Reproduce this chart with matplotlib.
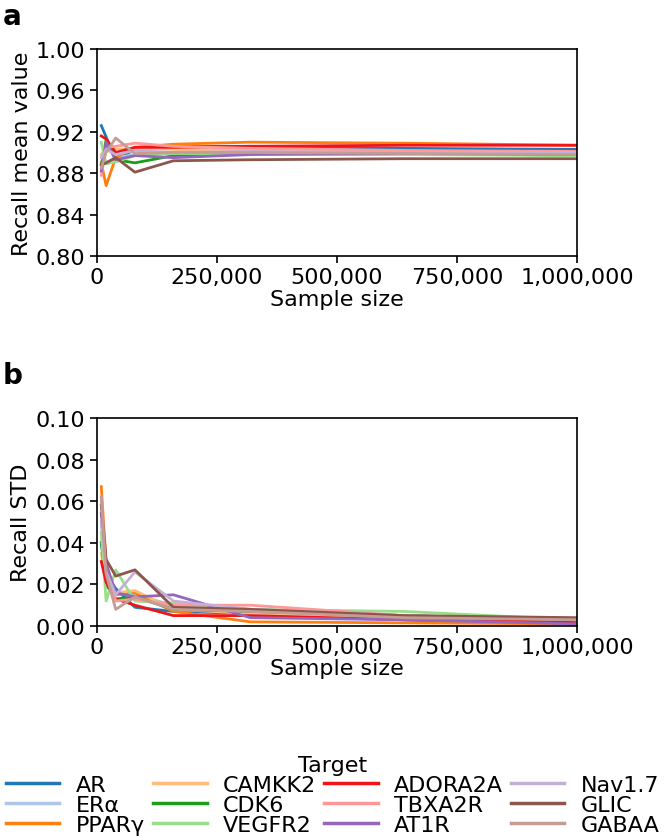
import matplotlib
matplotlib.use("Agg")
import matplotlib.pyplot as plt
from matplotlib.ticker import FuncFormatter

plt.rcParams['font.family'] = ['DejaVu Sans']

sample_sizes = [10000, 20000, 40000, 80000, 160000, 320000, 640000, 1000000]

targets = ["AR", "ERα", "PPARγ", "CAMKK2", "CDK6", "VEGFR2",
           "ADORA2A", "TBXA2R", "AT1R", "Nav1.7", "GLIC", "GABAA"]

colors = ["#1f77b4", "#aec7e8", "#ff7f0e", "#ffbb78", "#1a9e1a", "#98df8a",
          "#f01418", "#ff9896", "#9467bd", "#c5b0d5", "#8c564b", "#c49c94"]

mean_AR      = [0.926, 0.915, 0.893, 0.903, 0.906, 0.906, 0.904, 0.903]
mean_ERa     = [0.897, 0.890, 0.895, 0.898, 0.900, 0.899, 0.898, 0.898]
mean_PPARg   = [0.890, 0.868, 0.895, 0.905, 0.908, 0.910, 0.909, 0.907]
mean_CAMKK2  = [0.898, 0.905, 0.903, 0.904, 0.903, 0.902, 0.901, 0.900]
mean_CDK6    = [0.888, 0.912, 0.893, 0.890, 0.897, 0.900, 0.900, 0.897]
mean_VEGFR2  = [0.910, 0.889, 0.891, 0.897, 0.899, 0.899, 0.898, 0.897]
mean_ADORA2A = [0.916, 0.913, 0.900, 0.905, 0.905, 0.906, 0.907, 0.907]
mean_TBXA2R  = [0.878, 0.905, 0.906, 0.909, 0.906, 0.904, 0.902, 0.901]
mean_AT1R    = [0.882, 0.910, 0.893, 0.897, 0.895, 0.898, 0.899, 0.898]
mean_Nav17   = [0.895, 0.903, 0.898, 0.902, 0.900, 0.901, 0.900, 0.900]
mean_GLIC    = [0.888, 0.890, 0.895, 0.881, 0.892, 0.893, 0.894, 0.894]
mean_GABAA   = [0.885, 0.900, 0.914, 0.899, 0.900, 0.900, 0.899, 0.898]

std_AR      = [0.040, 0.025, 0.018, 0.009, 0.007, 0.006, 0.003, 0.001]
std_ERa     = [0.050, 0.022, 0.016, 0.015, 0.010, 0.008, 0.005, 0.003]
std_PPARg   = [0.067, 0.030, 0.015, 0.016, 0.007, 0.002, 0.0015, 0.001]
std_CAMKK2  = [0.035, 0.022, 0.016, 0.017, 0.008, 0.006, 0.004, 0.003]
std_CDK6    = [0.040, 0.020, 0.013, 0.014, 0.008, 0.007, 0.005, 0.003]
std_VEGFR2  = [0.045, 0.012, 0.027, 0.012, 0.011, 0.008, 0.007, 0.003]
std_ADORA2A = [0.031, 0.021, 0.013, 0.010, 0.005, 0.005, 0.003, 0.002]
std_TBXA2R  = [0.062, 0.030, 0.012, 0.013, 0.010, 0.010, 0.005, 0.003]
std_AT1R    = [0.054, 0.030, 0.016, 0.014, 0.015, 0.004, 0.003, 0.001]
std_Nav17   = [0.050, 0.026, 0.015, 0.026, 0.012, 0.008, 0.005, 0.003]
std_GLIC    = [0.058, 0.032, 0.024, 0.027, 0.009, 0.008, 0.005, 0.004]
std_GABAA   = [0.062, 0.025, 0.008, 0.014, 0.008, 0.007, 0.004, 0.003]

means = [mean_AR, mean_ERa, mean_PPARg, mean_CAMKK2, mean_CDK6, mean_VEGFR2,
         mean_ADORA2A, mean_TBXA2R, mean_AT1R, mean_Nav17, mean_GLIC, mean_GABAA]
stds = [std_AR, std_ERa, std_PPARg, std_CAMKK2, std_CDK6, std_VEGFR2,
        std_ADORA2A, std_TBXA2R, std_AT1R, std_Nav17, std_GLIC, std_GABAA]

W, H = 666, 837
fig = plt.figure(figsize=(W / 100, H / 100), dpi=100)

def frac_axes(left, top, right, bottom):
    return fig.add_axes([left / W, 1 - bottom / H, (right - left) / W, (bottom - top) / H])

ax_a = frac_axes(96.5, 50, 577, 257)
ax_b = frac_axes(96.5, 419, 577, 627)

FS = 16
xfmt = FuncFormatter(lambda v, p: f"{int(round(v)):,}")

lines = []
for name, col, m in zip(targets, colors, means):
    ln, = ax_a.plot(sample_sizes, m, color=col, lw=2, label=name)
    lines.append(ln)
for name, col, s in zip(targets, colors, stds):
    ax_b.plot(sample_sizes, s, color=col, lw=2)

for ax, ylab, yt in [
    (ax_a, "Recall mean value", [0.80, 0.84, 0.88, 0.92, 0.96, 1.00]),
    (ax_b, "Recall STD", [0.00, 0.02, 0.04, 0.06, 0.08, 0.10]),
]:
    ax.set_xlim(0, 1000000)
    ax.set_ylim(yt[0], yt[-1])
    ax.set_xticks([0, 250000, 500000, 750000, 1000000])
    ax.xaxis.set_major_formatter(xfmt)
    ax.set_yticks(yt)
    ax.set_yticklabels([f"{v:.2f}" for v in yt])
    ax.tick_params(labelsize=FS, length=5, width=1.2, pad=3)
    ax.set_xlabel("Sample size", fontsize=FS, labelpad=1)
    ax.set_ylabel(ylab, fontsize=FS, labelpad=3)
    for sp in ax.spines.values():
        sp.set_linewidth(1.2)

fig.text(3 / W, 1 - 3 / H, "a", fontsize=20, fontweight="bold", va="top", ha="left")
fig.text(3 / W, 1 - 362 / H, "b", fontsize=20, fontweight="bold", va="top", ha="left")

leg = fig.legend(handles=lines, ncol=4, loc="lower center",
                 bbox_to_anchor=(0.5, -0.012), frameon=False,
                 fontsize=FS, title="Target", title_fontsize=FS,
                 handlelength=2.4, handletextpad=0.75, columnspacing=0.35,
                 labelspacing=0.0, borderpad=0.0)
for lh in leg.get_lines():
    lh.set_linewidth(2.5)

fig.savefig("out.png", dpi=100)
